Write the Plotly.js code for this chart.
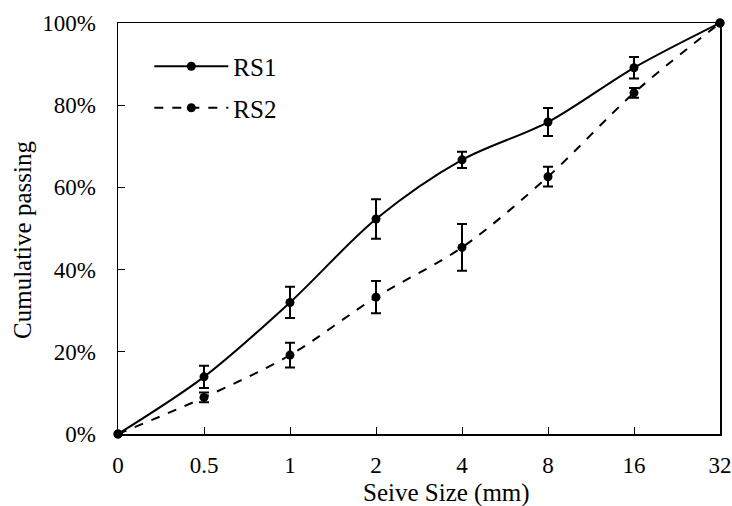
<!DOCTYPE html>
<html>
<head>
<meta charset="utf-8">
<script src="https://cdn.plot.ly/plotly-3.0.1.min.js"></script>
<style>html,body{margin:0;padding:0;background:#fff;}#chart{width:732px;height:506px;}</style>
</head>
<body>
<div id="chart"></div>
<script>
const sieveSizes = ["0", "0.5", "1", "2", "4", "8", "16", "32"];
const rs1Passing = [0, 0.139, 0.320, 0.523, 0.667, 0.759, 0.891, 1.0];
const rs1Error   = [0, 0.027, 0.038, 0.048, 0.020, 0.034, 0.026, 0];
const rs2Passing = [0, 0.089, 0.192, 0.333, 0.454, 0.626, 0.830, 1.0];
const rs2Error   = [0, 0.012, 0.030, 0.039, 0.057, 0.024, 0.012, 0];
const yTicks = [0, 0.2, 0.4, 0.6, 0.8, 1.0];
const xTitle = "Seive Size (mm)";
const yTitle = "Cumulative passing";

const fam = "'Liberation Serif', 'Times New Roman', serif";
const tickFont = {family: fam, size: 23, color: "#000"};
const titleFont = {family: fam, size: 25, color: "#000"};
const legendFont = {family: fam, size: 25, color: "#000"};

const traces = [
  {
    name: "RS1", legendgroup: "a", x: sieveSizes, y: rs1Passing, type: "scatter", mode: "lines+markers",
    line: {color: "#000", width: 2, shape: "spline", smoothing: 0.9},
    marker: {color: "#000", size: 9},
    error_y: {type: "data", array: rs1Error, visible: true, color: "#000", thickness: 2, width: 5},
    cliponaxis: false
  },
  {
    name: "RS2", legendgroup: "b", x: sieveSizes, y: rs2Passing, type: "scatter", mode: "lines+markers",
    line: {color: "#000", width: 2, dash: "dash", shape: "spline", smoothing: 0.9},
    marker: {color: "#000", size: 9},
    error_y: {type: "data", array: rs2Error, visible: true, color: "#000", thickness: 2, width: 5},
    cliponaxis: false
  }
];

const layout = {
  width: 732, height: 506,
  margin: {l: 118, r: 12, t: 23, b: 72},
  paper_bgcolor: "#fff", plot_bgcolor: "#fff",
  font: tickFont,
  showlegend: true,
  legend: {x: 0.052, y: 0.95, xanchor: "left", yanchor: "top", bgcolor: "rgba(0,0,0,0)",
           itemwidth: 74, traceorder: "grouped", tracegroupgap: 6, font: legendFont},
  xaxis: {
    type: "category", categoryorder: "array", categoryarray: sieveSizes,
    range: [0, 7], showgrid: false, zeroline: false,
    showline: true, linecolor: "#000", linewidth: 1.5, mirror: true,
    ticks: "inside", ticklen: 7, tickcolor: "#000", tickwidth: 1,
    tickfont: tickFont, ticklabelstandoff: 10
  },
  yaxis: {
    range: [0, 1], tickvals: yTicks, tickformat: ".0%",
    showgrid: false, zeroline: false,
    showline: true, linecolor: "#000", linewidth: 1.5, mirror: true,
    ticks: "inside", ticklen: 7, tickcolor: "#000", tickwidth: 1,
    tickfont: tickFont, ticklabelstandoff: 16
  },
  annotations: [
    {text: xTitle, xref: "paper", yref: "paper", x: 0.5465, y: -0.143,
     xanchor: "center", yanchor: "middle", showarrow: false, font: titleFont},
    {text: yTitle, xref: "paper", yref: "paper", x: -0.1595, y: 0.472, textangle: -90,
     xanchor: "center", yanchor: "middle", showarrow: false, font: titleFont}
  ]
};

Plotly.newPlot("chart", traces, layout, {displayModeBar: false, staticPlot: true});
</script>
</body>
</html>
